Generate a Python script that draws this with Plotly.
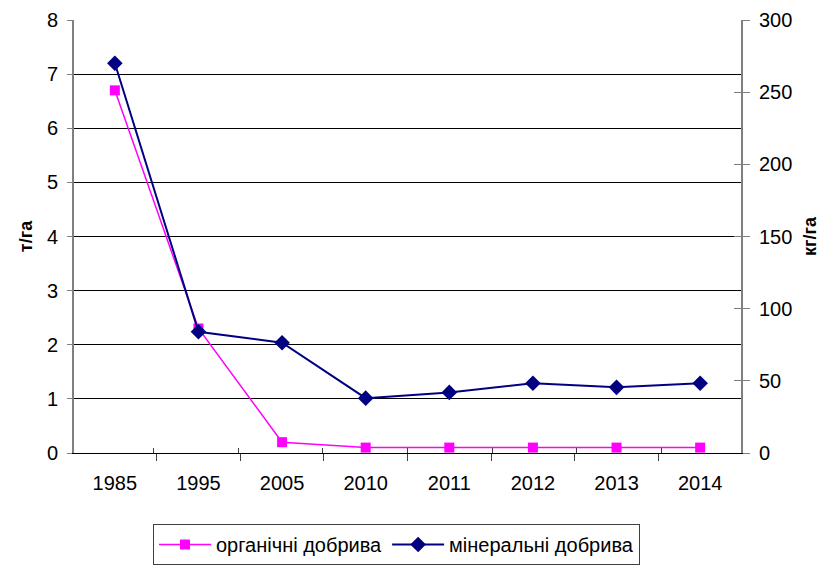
import plotly.graph_objects as go

years = ["1985", "1995", "2005", "2010", "2011", "2012", "2013", "2014"]
organic = [6.7, 2.3, 0.2, 0.1, 0.1, 0.1, 0.1, 0.1]
mineral = [270, 84, 76.4, 38, 42, 48.3, 45.5, 48.3]
left_ticks = [0, 1, 2, 3, 4, 5, 6, 7, 8]
right_ticks = [0, 50, 100, 150, 200, 250, 300]

FONT = "Liberation Sans, Arial, sans-serif"

fig = go.Figure()
fig.add_trace(go.Scatter(
    x=years, y=organic, name="органічні добрива", mode="lines+markers",
    line=dict(color="#FF00FF", width=1.5),
    marker=dict(symbol="square", size=10, color="#FF00FF"),
    yaxis="y"))
fig.add_trace(go.Scatter(
    x=years, y=mineral, name="мінеральні добрива", mode="lines+markers",
    line=dict(color="#000080", width=2),
    marker=dict(symbol="diamond", size=12, color="#000080"),
    yaxis="y2"))
# invisible helper trace for inside tick marks
fig.add_trace(go.Scatter(x=years, y=mineral, xaxis="x2", yaxis="y3", mode="markers",
                         marker=dict(opacity=0), showlegend=False, hoverinfo="skip"))

fig.update_layout(
    width=826, height=565,
    margin=dict(l=66, r=93, t=12, b=120, autoexpand=False),
    paper_bgcolor="white", plot_bgcolor="white",
    font=dict(family=FONT, size=20, color="black"),
    showlegend=True,
    legend=dict(orientation="h", x=0.4835, xanchor="center", y=-0.164, yanchor="top",
                bordercolor="#404040", borderwidth=1, font=dict(size=20, family=FONT),
                tracegroupgap=0, itemwidth=52),
    xaxis=dict(type="category", showgrid=False, showline=True, linecolor="black", linewidth=1,
               ticks="outside", ticklen=7, tickcolor="#404040", tickson="boundaries",
               tickfont=dict(size=20), zeroline=False, automargin=False, ticklabelstandoff=12),
    xaxis2=dict(type="category", overlaying="x", showgrid=False, showline=False,
                ticks="inside", ticklen=5, tickcolor="#404040", tickson="boundaries",
                showticklabels=False, automargin=False, anchor="y"),
    yaxis=dict(range=[0, 8], tickvals=left_ticks, showgrid=True, gridcolor="black", gridwidth=1,
               showline=True, linecolor="#808080", linewidth=2, ticks="outside", ticklen=5,
               tickcolor="#808080", ticklabelstandoff=5, zeroline=False, automargin=False,
               title=dict(text="<b>т/га</b>", font=dict(size=18), standoff=10), tickfont=dict(size=20)),
    yaxis2=dict(range=[0, 300], tickvals=right_ticks, overlaying="y", side="right", showgrid=False,
                showline=True, linecolor="#808080", linewidth=2, ticks="outside", ticklen=7,
                tickcolor="#808080", ticklabelstandoff=5, zeroline=False, automargin=False,
                title=dict(text="<b>кг/га</b>", font=dict(size=18), standoff=12), tickfont=dict(size=20)),
    yaxis3=dict(range=[0, 300], tickvals=right_ticks, overlaying="y", side="right", showgrid=False,
                showline=False, ticks="inside", ticklen=7, tickcolor="#808080",
                showticklabels=False, zeroline=False, automargin=False, anchor="x"),
)

fig.write_html("out.html")
